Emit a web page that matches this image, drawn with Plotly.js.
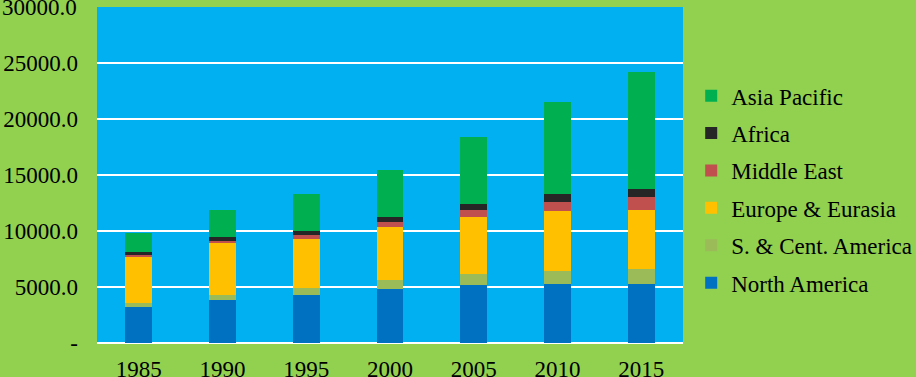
<!DOCTYPE html>
<html>
<head>
<meta charset="utf-8">
<script src="https://cdn.plot.ly/plotly-3.0.1.min.js"></script>
<style>html,body{margin:0;padding:0;background:#92D050;}#chart{width:916px;height:377px;}</style>
</head>
<body>
<div id="chart"></div>
<script>
const years = ['1985','1990','1995','2000','2005','2010','2015'];
const northAmerica   = [3214, 3839, 4286, 4821, 5179, 5268, 5268];
const sCentAmerica   = [386, 447, 654, 804, 982, 1161, 1339];
const europeEurasia  = [4108, 4672, 4346, 4762, 5089, 5357, 5268];
const middleEast     = [179, 179, 357, 417, 625, 803, 1161];
const africa         = [238, 327, 357, 446, 536, 715, 714];
const asiaPacific    = [1696, 2411, 3304, 4196, 5982, 8214, 10446];

const seriesNames  = ['North America','S. & Cent. America','Europe & Eurasia','Middle East','Africa','Asia Pacific'];
const seriesValues = [northAmerica, sCentAmerica, europeEurasia, middleEast, africa, asiaPacific];
const seriesColors = ['#0070C0','#9BBB59','#FFC000','#C0504D','#262626','#00B050'];

const yTickVals = [0, 5000, 10000, 15000, 20000, 25000];
const yTickText = ['-', '5000.0', '10000.0', '15000.0', '20000.0', '25000.0'];
const yTopVal = 30000, yTopText = '30000.0';

const traces = seriesNames.map((n, i) => ({
  type: 'bar', name: n, x: years, y: seriesValues[i],
  marker: {color: seriesColors[i], line: {width: 0}},
  legendgroup: 'g' + i, legendrank: seriesNames.length - i,
  hoverinfo: 'x+y+name'
}));

const fam = '"Liberation Serif", "Times New Roman", Times, serif';
const fs = 23;
const font = {family: fam, size: fs, color: '#000'};
const layout = {
  width: 916, height: 377,
  margin: {l: 97, r: 233, t: 7, b: 34, pad: 0, autoexpand: false},
  paper_bgcolor: '#92D050', plot_bgcolor: '#00B0F0',
  barmode: 'stack', bargap: 0.68,
  font: font,
  showlegend: true,
  legend: {
    x: 1.014, xanchor: 'left', y: 0.8, yanchor: 'top',
    traceorder: 'grouped', tracegroupgap: 4.5,
    font: font,
    bgcolor: 'rgba(0,0,0,0)', itemwidth: 30
  },
  xaxis: {
    type: 'category', showgrid: false, zeroline: false,
    showline: false, ticks: '', ticklabelstandoff: 10,
    tickfont: font
  },
  yaxis: {
    range: [0, 30000], tickvals: yTickVals.concat([yTopVal]), ticktext: yTickText.concat(['']),
    showgrid: true, gridcolor: '#FFFFFF', gridwidth: 1.3,
    zeroline: true, zerolinecolor: '#FFFFFF', zerolinewidth: 1.3,
    showline: false, ticks: '', ticklabelstandoff: 18,
    tickfont: font
  },
  annotations: [{
    xref: 'paper', yref: 'y', x: 0, y: yTopVal, xanchor: 'right', yanchor: 'middle',
    xshift: -18, text: yTopText, showarrow: false, font: font
  }]
};
Plotly.newPlot('chart', traces, layout, {displayModeBar: false, staticPlot: true});
</script>
</body>
</html>
